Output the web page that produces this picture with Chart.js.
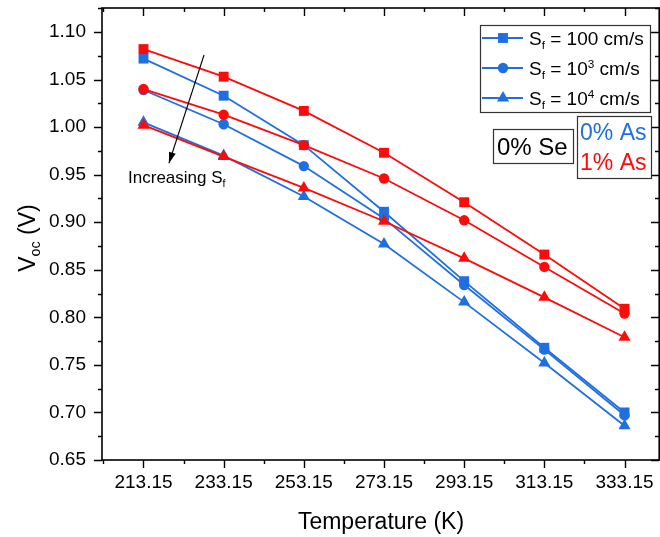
<!DOCTYPE html>
<html>
<head>
<meta charset="utf-8">
<script src="https://cdn.jsdelivr.net/npm/chart.js@4.4.0/dist/chart.umd.min.js"></script>
<style>
  html, body { margin: 0; padding: 0; background: #fff; }
  #wrap { width: 660px; height: 537px; position: relative; }
</style>
</head>
<body>
<div id="wrap"><canvas id="vocChart"></canvas></div>
<script>
/* ============================
   DATA
============================ */
const temps = [213.15, 233.15, 253.15, 273.15, 293.15, 313.15, 333.15];

// 0% As
const as0Sf100 = [1.072, 1.033, 0.981, 0.911, 0.838, 0.768, 0.700];
const as0Sf1e3 = [1.039, 1.003, 0.959, 0.904, 0.834, 0.766, 0.697];
const as0Sf1e4 = [1.005, 0.970, 0.927, 0.877, 0.816, 0.752, 0.686];

// 1% As
const as1Sf100 = [1.082, 1.053, 1.017, 0.973, 0.921, 0.866, 0.809];
const as1Sf1e3 = [1.040, 1.013, 0.981, 0.946, 0.902, 0.853, 0.804];
const as1Sf1e4 = [1.002, 0.969, 0.936, 0.901, 0.862, 0.821, 0.779];

const xTicks = [213.15, 233.15, 253.15, 273.15, 293.15, 313.15, 333.15];
const yTicks = [0.65, 0.70, 0.75, 0.80, 0.85, 0.90, 0.95, 1.00, 1.05, 1.10];

const BLUE = "#1f6fe3";
const RED = "#ff0a0a";
const FONT = "'Liberation Sans', Arial, sans-serif";

/* ============================
   HELPERS
============================ */
function xy(arr) {
  return temps.map((t, i) => ({ x: t, y: arr[i] }));
}

function series(label, arr, color, style, radius, order) {
  return {
    label,
    data: xy(arr),
    borderColor: color,
    backgroundColor: color,
    borderWidth: 1.8,
    pointStyle: style,
    pointRadius: radius,
    pointHoverRadius: radius,
    pointBorderWidth: 0,
    tension: 0,
    order,
  };
}

// draws text made of normal / sub / sup runs, returns end x
function richText(ctx, parts, x, y, size) {
  let cx = x;
  parts.forEach((p) => {
    let fs = size, dy = 0;
    if (p.m === "sub") { fs = size * 0.62; dy = size * 0.22; }
    if (p.m === "sup") { fs = size * 0.62; dy = -size * 0.38; }
    ctx.font = fs + "px " + FONT;
    ctx.fillText(p.t, cx, y + dy);
    cx += ctx.measureText(p.t).width;
  });
  return cx;
}

/* ============================
   DECORATION PLUGIN
============================ */
const frameAndNotes = {
  id: "frameAndNotes",
  afterDraw(chart) {
    const { ctx, chartArea: a, scales } = chart;
    const xs = scales.x, ys = scales.y;
    ctx.save();

    // frame
    ctx.strokeStyle = "#000";
    ctx.lineWidth = 1.6;
    ctx.strokeRect(a.left, a.top, a.right - a.left - 0.8, a.bottom - a.top);

    // ticks (major + minor)
    ctx.lineWidth = 1.4;
    ctx.beginPath();
    for (let v = 0.65, k = 0; v <= 1.125 + 1e-9; v += 0.025, k++) {
      const py = Math.round(ys.getPixelForValue(v)) + 0.5;
      const len = k % 2 === 0 ? 8 : 4;
      ctx.moveTo(a.left - len, py); ctx.lineTo(a.left, py);
      ctx.moveTo(a.right - 1, py); ctx.lineTo(a.right - 1 - len, py);
    }
    for (let v = 203.15, k = 0; v <= 342; v += 10, k++) {
      const px = Math.round(xs.getPixelForValue(v)) + 0.5;
      const len = k % 2 === 1 ? 8 : 4;
      ctx.moveTo(px, a.bottom); ctx.lineTo(px, a.bottom + len);
      ctx.moveTo(px, a.top); ctx.lineTo(px, a.top + len);
    }
    ctx.stroke();

    ctx.fillStyle = "#000";
    ctx.textBaseline = "alphabetic";

    // axis titles
    ctx.textAlign = "left";
    ctx.font = "23px " + FONT;
    const tTitle = "Temperature (K)";
    const tw = ctx.measureText(tTitle).width;
    ctx.fillText(tTitle, (a.left + a.right) / 2 - tw / 2, 529);

    ctx.save();
    ctx.translate(35, 238);
    ctx.rotate(-Math.PI / 2);
    const yParts = [{ t: "V" }, { t: "oc", m: "sub" }, { t: " (V)" }];
    let yw = 0;
    yParts.forEach((p) => {
      ctx.font = (p.m ? 23 * 0.62 : 23) + "px " + FONT;
      yw += ctx.measureText(p.t).width;
    });
    richText(ctx, yParts, -yw / 2, 0, 23);
    ctx.restore();

    // legend
    const lx = 480, ly = 25, lw = 170, lh = 87;
    ctx.fillStyle = "#fff";
    ctx.fillRect(lx, ly, lw, lh);
    ctx.strokeStyle = "#333";
    ctx.lineWidth = 1.2;
    ctx.strokeRect(lx + 0.5, ly + 0.5, lw, lh);
    const rows = [
      { style: "rect", r: 7, parts: [{ t: "S" }, { t: "f", m: "sub" }, { t: " = 100 cm/s" }] },
      { style: "circle", r: 5.2, parts: [{ t: "S" }, { t: "f", m: "sub" }, { t: " = 10" }, { t: "3", m: "sup" }, { t: " cm/s" }] },
      { style: "triangle", r: 7, parts: [{ t: "S" }, { t: "f", m: "sub" }, { t: " = 10" }, { t: "4", m: "sup" }, { t: " cm/s" }] },
    ];
    rows.forEach((row, i) => {
      const ry = 38 + i * 30;
      ctx.strokeStyle = BLUE;
      ctx.fillStyle = BLUE;
      ctx.lineWidth = 1.8;
      ctx.beginPath();
      ctx.moveTo(482, ry); ctx.lineTo(523, ry);
      ctx.stroke();
      Chart.helpers.drawPoint(ctx, { pointStyle: row.style, radius: row.r, rotation: 0, borderWidth: 0 }, 503, ry);
      ctx.fillStyle = "#000";
      richText(ctx, row.parts, 529, ry + 7, 19);
    });

    // "0% Se" box
    ctx.strokeStyle = "#333";
    ctx.lineWidth = 1.2;
    ctx.strokeRect(493.5, 129.5, 80, 34);
    ctx.fillStyle = "#000";
    ctx.font = "24px " + FONT;
    ctx.fillText("0% Se", 497, 155);

    // As content box
    ctx.strokeRect(577.5, 116.5, 74, 62);
    ctx.font = "23px " + FONT;
    ctx.fillStyle = BLUE;
    ctx.fillText("0% As", 580, 140);
    ctx.fillStyle = RED;
    ctx.fillText("1% As", 580, 170);

    // arrow: increasing Sf
    const x0 = xs.getPixelForValue(228.25), y0 = ys.getPixelForValue(1.0758);
    const x1 = xs.getPixelForValue(219.5), y1 = ys.getPixelForValue(0.962);
    ctx.strokeStyle = "#000";
    ctx.fillStyle = "#000";
    ctx.lineWidth = 1.1;
    ctx.beginPath();
    ctx.moveTo(x0, y0); ctx.lineTo(x1, y1);
    ctx.stroke();
    const ang = Math.atan2(y1 - y0, x1 - x0);
    const hl = 11, hw = 3.5;
    ctx.beginPath();
    ctx.moveTo(x1, y1);
    ctx.lineTo(x1 - hl * Math.cos(ang) + hw * Math.sin(ang), y1 - hl * Math.sin(ang) - hw * Math.cos(ang));
    ctx.lineTo(x1 - hl * Math.cos(ang) - hw * Math.sin(ang), y1 - hl * Math.sin(ang) + hw * Math.cos(ang));
    ctx.closePath();
    ctx.fill();

    const tx = xs.getPixelForValue(209.3), ty = ys.getPixelForValue(0.941);
    richText(ctx, [{ t: "Increasing S" }, { t: "f", m: "sub" }], tx, ty, 17);

    ctx.restore();
  },
};

/* ============================
   CHART
============================ */
const ctx = document.getElementById("vocChart").getContext("2d");

new Chart(ctx, {
  type: "line",
  data: {
    datasets: [
      series("0% As, Sf = 100", as0Sf100, BLUE, "rect", 7, 1),
      series("0% As, Sf = 1e3", as0Sf1e3, BLUE, "circle", 5.2, 1),
      series("0% As, Sf = 1e4", as0Sf1e4, BLUE, "triangle", 7, 1),
      series("1% As, Sf = 100", as1Sf100, RED, "rect", 7, 0),
      series("1% As, Sf = 1e3", as1Sf1e3, RED, "circle", 5.2, 0),
      series("1% As, Sf = 1e4", as1Sf1e4, RED, "triangle", 7, 0),
    ],
  },
  options: {
    responsive: true,
    maintainAspectRatio: false,
    animation: false,
    layout: {
      autoPadding: false,
      padding: { top: 8, left: 0, right: 0, bottom: 0 },
    },
    plugins: {
      legend: { display: false },
      tooltip: { enabled: false },
    },
    scales: {
      x: {
        type: "linear",
        min: 202.8,
        max: 342,
        grid: { display: false, drawTicks: false },
        border: { display: false },
        afterBuildTicks: (s) => { s.ticks = xTicks.map((v) => ({ value: v })); },
        afterFit: (s) => {
          s.height = 77;
          s.paddingLeft = 0;
          s.paddingRight = 0;
        },
        ticks: {
          color: "#000",
          padding: 11,
          maxRotation: 0,
          font: { family: FONT, size: 19 },
          callback: (v) => Number(v).toFixed(2),
        },
      },
      y: {
        min: 0.65,
        max: 1.1252,
        grid: { display: false, drawTicks: false },
        border: { display: false },
        afterBuildTicks: (s) => { s.ticks = yTicks.map((v) => ({ value: v })); },
        afterFit: (s) => {
          s.width = 102;
          s.paddingTop = 0;
          s.paddingBottom = 0;
        },
        ticks: {
          color: "#000",
          padding: 16,
          font: { family: FONT, size: 19 },
          callback: (v) => Number(v).toFixed(2),
        },
      },
    },
  },
  plugins: [frameAndNotes],
});
</script>
</body>
</html>
